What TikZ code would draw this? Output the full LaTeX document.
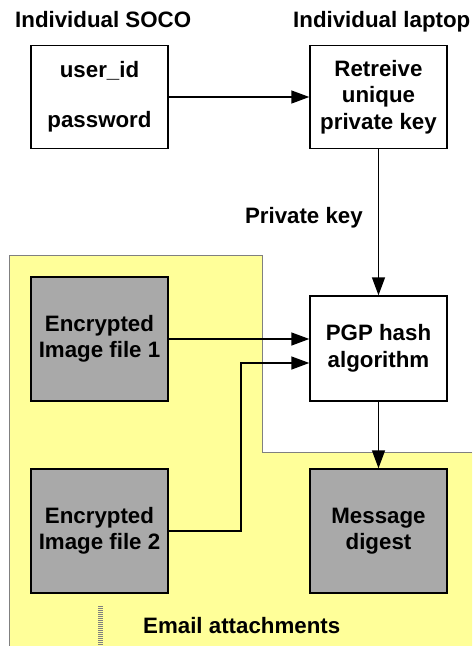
\documentclass[tikz,border=0pt]{standalone}
\usepackage{fontspec}
\setmainfont{Liberation Sans}
\usepackage{xcolor}
\usepackage{tikz}
\usetikzlibrary{arrows.meta,positioning}
\definecolor{attachyellow}{HTML}{FFFF99}
\definecolor{filegray}{HTML}{A9A9A9}
\definecolor{edgegray}{HTML}{808080}

\begin{document}
\begin{tikzpicture}[
  x=1pt, y=-1pt,
  keybox/.style={
    rectangle,
    draw=black,
    line width=1.4pt,
    fill=white,
    minimum width=137pt,
    minimum height=103pt,
    inner sep=0pt,
    align=center,
    font=\fontsize{22.3}{26.5}\selectfont\bfseries
  },
  filebox/.style={
    keybox,
    fill=filegray,
    minimum height=124pt
  },
  flow/.style={-{Triangle[length=18pt, width=13pt]}, line width=1.4pt, draw=black},
  caption/.style={font=\fontsize{22.3}{26.5}\selectfont\bfseries, inner sep=0pt}
]
\useasboundingbox (0,0) rectangle (472,646);

% email attachment area
\fill[attachyellow] (9,646) -- (9,255) -- (262,255) -- (262,452) -- (472,452) -- (472,646) -- cycle;
\draw[edgegray, line width=1pt] (9,646) -- (9,255) -- (262,255) -- (262,452) -- (472,452);

\node[caption, anchor=base west] (soco) at (15,27) {Individual SOCO};
\node[caption, anchor=base west] (laptop) at (293,27) {Individual laptop};

\node[keybox] (login) at (99.5,97) {user\_id\\[23.5pt]password};
\node[keybox] (retrieve) at (378.5,97) {Retreive\\unique\\private key};

\node[filebox] (image1) at (99.5,339) {Encrypted\\Image file 1};
\node[keybox, minimum height=105pt] (pgp) at (378.5,348.5) {PGP hash\\algorithm};

\node[filebox] (image2) at (99.5,531) {Encrypted\\Image file 2};
\node[filebox] (digest) at (378.5,531) {Message\\digest};

\node[caption, anchor=base east] (keylabel) at (363,223) {Private key};
\node[caption, anchor=base west] (attach) at (143,633) {Email attachments};

\coordinate (turn) at (241,363);

\draw[flow] (login.east) -- (retrieve.west);
\draw[flow] (retrieve.south) -- (pgp.north);
\draw[flow] (image1.east) -- (image1.east -| pgp.west);
\draw[flow] (image2.east) -| (turn) -- (turn -| pgp.west);
\draw[flow] (pgp.south) -- (digest.north);

% striped marker
\draw[edgegray, line width=5pt, dash pattern=on 1pt off 1pt] (100,606) -- (100,646);

\end{tikzpicture}
\end{document}
